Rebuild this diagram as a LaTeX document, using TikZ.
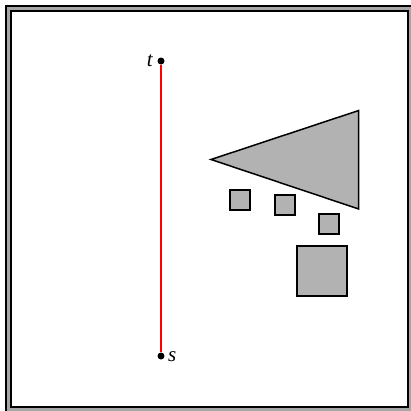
\documentclass[tikz,border=0pt]{standalone}
\usepackage{fontspec}
\setmainfont{Liberation Serif}
\begin{document}
\begin{tikzpicture}[x=1pt,y=-1pt,
  obst/.style={draw=black,fill=black!30,line width=1.5pt,line join=miter},
  pt/.style={circle,fill=black,inner sep=0pt,minimum size=7pt},
  lbl/.style={font=\fontsize{21}{21}\selectfont\itshape,inner sep=0pt}]
\useasboundingbox (0,0) rectangle (411,410);
\draw[line width=7pt] (8.5,8.5) rectangle (410.5,409.5);
\draw[line width=3.6pt,black!35] (8.5,8.5) rectangle (410.5,409.5);
\filldraw[obst] (211,159.5) -- (358.7,110.5) -- (358.7,209) -- cycle;
\filldraw[obst] (230,190) rectangle (250,210);
\filldraw[obst] (275,195) rectangle (295,215);
\filldraw[obst] (319,214) rectangle (339,234);
\filldraw[obst] (297,246) rectangle (347,296);
\node[pt] (t) at (161,61) {};
\node[pt] (s) at (161,356) {};
\draw[red,line width=1.4pt] (t) -- (s);
\node[lbl,anchor=east] (tl) at (153,61) {t};
\node[lbl,anchor=west] (sl) at (168,357) {s};
\end{tikzpicture}
\end{document}
